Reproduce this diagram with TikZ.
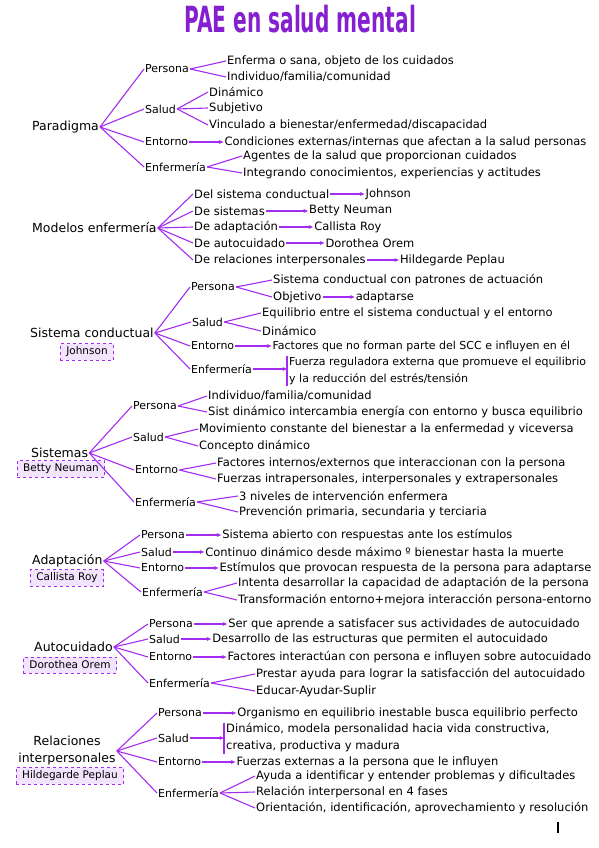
\documentclass[tikz,border=0pt]{standalone}
\usepackage{fontspec}
\setmainfont{DejaVu Sans}
\usepackage{graphicx}
\usetikzlibrary{arrows.meta,positioning}
\usepackage{xcolor}
\definecolor{lila}{HTML}{A32CF0}
\definecolor{lavanda}{HTML}{F3E4FD}
\definecolor{morado}{HTML}{8420D0}
\tikzset{
  titulo/.style={font=\bfseries\fontsize{36}{40}\selectfont,text=morado,inner sep=0pt},
  root/.style={font=\fontsize{12.5}{17}\selectfont,inner sep=1pt,align=center},
  part/.style={font=\fontsize{11}{13}\selectfont,inner sep=1pt,anchor=west},
  leaf/.style={font=\fontsize{11.5}{13}\selectfont,inner sep=1pt,anchor=west},
  bracket/.style={font=\fontsize{11.5}{17}\selectfont,inner xsep=2pt,inner ysep=1pt,anchor=west,align=left},
  author/.style={draw=lila,dashed,line width=1pt,fill=lavanda,font=\fontsize{10.5}{12}\selectfont,inner xsep=6pt,minimum height=16pt},
  link/.style={draw=lila,line width=1.1pt},
  arr/.style={-{Stealth[length=4.5pt,width=4pt]},draw=lila,line width=1.1pt}
}

\begin{document}
\begin{tikzpicture}[x=1pt,y=-1pt,node distance=32pt]
  \useasboundingbox (0,0) rectangle (599,848);
  \node[titulo] (ttl) at (300,19) {\scalebox{0.56}[1]{PAE en salud mental}};

  \node[root,anchor=west] (par) at (31,127) {Paradigma};
  \node[part] (p1) at (144,69) {Persona};
  \node[part] (s1) at (144,109) {Salud};
  \node[part] (e1) at (144,142) {Entorno};
  \node[part] (f1) at (144,167) {Enfermería};
  \node[leaf] (p1a) at (226,61) {Enferma o sana, objeto de los cuidados};
  \node[leaf] (p1b) at (226,77) {Individuo/familia/comunidad};
  \node[leaf] (s1a) at (208,92) {Dinámico};
  \node[leaf] (s1b) at (208,108) {Subjetivo};
  \node[leaf] (s1c) at (208,125) {Vinculado a bienestar/enfermedad/discapacidad};
  \node[leaf,right=34pt of e1] (e1a) {Condiciones externas/internas que afectan a la salud personas};
  \node[leaf] (f1a) at (242,156) {Agentes de la salud que proporcionan cuidados};
  \node[leaf] (f1b) at (242,173) {Integrando conocimientos, experiencias y actitudes};
  \draw[link] (par.east) -- (p1.west);
  \draw[link] (par.east) -- (s1.west);
  \draw[link] (par.east) -- (e1.west);
  \draw[link] (par.east) -- (f1.west);
  \draw[link] (p1.east) -- (p1a.west);
  \draw[link] (p1.east) -- (p1b.west);
  \draw[link] (s1.east) -- (s1a.west);
  \draw[link] (s1.east) -- (s1b.west);
  \draw[link] (s1.east) -- (s1c.west);
  \draw[arr] (e1) -- (e1a);
  \draw[link] (f1.east) -- (f1a.west);
  \draw[link] (f1.east) -- (f1b.west);

  \node[root,anchor=west] (mod) at (31,228) {Modelos enfermería};
  \node[leaf] (m1) at (193,194) {Del sistema conductual};
  \node[leaf] (m2) at (193,211) {De sistemas};
  \node[leaf] (m3) at (193,227) {De adaptación};
  \node[leaf] (m4) at (193,243) {De autocuidado};
  \node[leaf] (m5) at (193,260) {De relaciones interpersonales};
  \node[leaf,right=34pt of m1] (m1a) {Johnson};
  \node[leaf,right=42pt of m2] (m2a) {Betty Neuman};
  \node[leaf,right=34pt of m3] (m3a) {Callista Roy};
  \node[leaf,right=38pt of m4] (m4a) {Dorothea Orem};
  \node[leaf,right=32pt of m5] (m5a) {Hildegarde Peplau};
  \draw[link] (mod.east) -- (m1.west);
  \draw[link] (mod.east) -- (m2.west);
  \draw[link] (mod.east) -- (m3.west);
  \draw[link] (mod.east) -- (m4.west);
  \draw[link] (mod.east) -- (m5.west);
  \draw[arr] (m1) -- (m1a);
  \draw[arr] (m2) -- (m2a);
  \draw[arr] (m3) -- (m3a);
  \draw[arr] (m4) -- (m4a);
  \draw[arr] (m5) -- (m5a);

  \node[root,anchor=west] (sc) at (29,333) {Sistema conductual};
  \node[author] (jo) at (87,352) {Johnson};
  \node[part] (p3) at (190,287) {Persona};
  \node[part] (s3) at (191,322) {Salud};
  \node[part] (e3) at (190,346) {Entorno};
  \node[part] (f3) at (190,369) {Enfermería};
  \node[leaf] (p3a) at (272,280) {Sistema conductual con patrones de actuación};
  \node[leaf] (p3b) at (272,297) {Objetivo};
  \node[leaf,right=32pt of p3b] (p3c) {adaptarse};
  \node[leaf] (s3a) at (261,313) {Equilibrio entre el sistema conductual y el entorno};
  \node[leaf] (s3b) at (261,331) {Dinámico};
  \node[leaf,right=36pt of e3,font=\fontsize{11}{13}\selectfont] (e3a) {Factores que no forman parte del SCC e influyen en él};
  \node[bracket,font=\fontsize{11}{17}\selectfont] (f3a) at (287,371) {Fuerza reguladora externa que promueve el equilibrio\\y la reducción del estrés/tensión};
  \draw[link] (sc.east) -- (p3.west);
  \draw[link] (sc.east) -- (s3.west);
  \draw[link] (sc.east) -- (e3.west);
  \draw[link] (sc.east) -- (f3.west);
  \draw[link] (p3.east) -- (p3a.west);
  \draw[link] (p3.east) -- (p3b.west);
  \draw[arr] (p3b) -- (p3c);
  \draw[link] (s3.east) -- (s3a.west);
  \draw[link] (s3.east) -- (s3b.west);
  \draw[arr] (e3) -- (e3a);
  \draw[link] (f3a.north west) -- (f3a.south west);
  \draw[arr] (f3.east) -- (f3.east -| f3a.west);

  \node[root,anchor=west] (sis) at (30,453) {Sistemas};
  \node[author] (bn) at (61,469) {Betty Neuman};
  \node[part] (p4) at (132,406) {Persona};
  \node[part] (s4) at (132,437) {Salud};
  \node[part] (e4) at (134,470) {Entorno};
  \node[part] (f4) at (134,502) {Enfermería};
  \node[leaf] (p4a) at (207,396) {Individuo/familia/comunidad};
  \node[leaf] (p4b) at (207,412) {Sist dinámico intercambia energía con entorno y busca equilibrio};
  \node[leaf] (s4a) at (198,429) {Movimiento constante del bienestar a la enfermedad y viceversa};
  \node[leaf] (s4b) at (198,446) {Concepto dinámico};
  \node[leaf] (e4a) at (216,463) {Factores internos/externos que interaccionan con la persona};
  \node[leaf] (e4b) at (216,479) {Fuerzas intrapersonales, interpersonales y extrapersonales};
  \node[leaf] (f4a) at (238,496) {3 niveles de intervención enfermera};
  \node[leaf] (f4b) at (238,512) {Prevención primaria, secundaria y terciaria};
  \draw[link] (sis.east) -- (p4.west);
  \draw[link] (sis.east) -- (s4.west);
  \draw[link] (sis.east) -- (e4.west);
  \draw[link] (sis.east) -- (f4.west);
  \draw[link] (p4.east) -- (p4a.west);
  \draw[link] (p4.east) -- (p4b.west);
  \draw[link] (s4.east) -- (s4a.west);
  \draw[link] (s4.east) -- (s4b.west);
  \draw[link] (e4.east) -- (e4a.west);
  \draw[link] (e4.east) -- (e4b.west);
  \draw[link] (f4.east) -- (f4a.west);
  \draw[link] (f4.east) -- (f4b.west);

  \node[root,anchor=west] (ad) at (31,561) {Adaptación};
  \node[author] (cr) at (67,578) {Callista Roy};
  \node[part] (p5) at (140,535) {Persona};
  \node[part] (s5) at (140,552) {Salud};
  \node[part] (e5) at (140,568) {Entorno};
  \node[part] (f5) at (141,592) {Enfermería};
  \node[leaf,right=35pt of p5] (p5a) {Sistema abierto con respuestas ante los estímulos};
  \node[leaf,right=31pt of s5] (s5a) {Continuo dinámico desde máximo º bienestar hasta la muerte};
  \node[leaf,right=33pt of e5] (e5a) {Estímulos que provocan respuesta de la persona para adaptarse};
  \node[leaf] (f5a) at (237,583) {Intenta desarrollar la capacidad de adaptación de la persona};
  \node[leaf] (f5b) at (237,600) {Transformación entorno+mejora interacción persona-entorno};
  \draw[link] (ad.east) -- (p5.west);
  \draw[link] (ad.east) -- (s5.west);
  \draw[link] (ad.east) -- (e5.west);
  \draw[link] (ad.east) -- (f5.west);
  \draw[arr] (p5) -- (p5a);
  \draw[arr] (s5) -- (s5a);
  \draw[arr] (e5) -- (e5a);
  \draw[link] (f5.east) -- (f5a.west);
  \draw[link] (f5.east) -- (f5b.west);

  \node[root,anchor=west] (au) at (33,647) {Autocuidado};
  \node[author] (do) at (70,665) {Dorothea Orem};
  \node[part] (p6) at (148,624) {Persona};
  \node[part] (s6) at (148,639) {Salud};
  \node[part] (e6) at (148,657) {Entorno};
  \node[part] (f6) at (148,683) {Enfermería};
  \node[leaf,right=33pt of p6] (p6a) {Ser que aprende a satisfacer sus actividades de autocuidado};
  \node[leaf,right=30pt of s6] (s6a) {Desarrollo de las estructuras que permiten el autocuidado};
  \node[leaf,right=33pt of e6] (e6a) {Factores interactúan con persona e influyen sobre autocuidado};
  \node[leaf] (f6a) at (255,674) {Prestar ayuda para lograr la satisfacción del autocuidado};
  \node[leaf] (f6b) at (255,691) {Educar-Ayudar-Suplir};
  \draw[link] (au.east) -- (p6.west);
  \draw[link] (au.east) -- (s6.west);
  \draw[link] (au.east) -- (e6.west);
  \draw[link] (au.east) -- (f6.west);
  \draw[arr] (p6) -- (p6a);
  \draw[arr] (s6) -- (s6a);
  \draw[arr] (e6) -- (e6a);
  \draw[link] (f6.east) -- (f6a.west);
  \draw[link] (f6.east) -- (f6b.west);

  \node[root] (rel) at (67,751) {Relaciones\\interpersonales};
  \node[author] (hp) at (70,776) {Hildegarde Peplau};
  \node[part] (p7) at (157,713) {Persona};
  \node[part] (s7) at (157,738) {Salud};
  \node[part] (e7) at (157,762) {Entorno};
  \node[part] (f7) at (157,793) {Enfermería};
  \node[leaf,right=33pt of p7] (p7a) {Organismo en equilibrio inestable busca equilibrio perfecto};
  \node[bracket] (s7a) at (224,738) {Dinámico, modela personalidad hacia vida constructiva,\\creativa, productiva y madura};
  \node[leaf,right=33pt of e7] (e7a) {Fuerzas externas a la persona que le influyen};
  \node[leaf] (f7a) at (255,776) {Ayuda a identificar y entender problemas y dificultades};
  \node[leaf] (f7b) at (255,792) {Relación interpersonal en 4 fases};
  \node[leaf] (f7c) at (255,808) {Orientación, identificación, aprovechamiento y resolución};
  \draw[link] (rel.east) -- (p7.west);
  \draw[link] (rel.east) -- (s7.west);
  \draw[link] (rel.east) -- (e7.west);
  \draw[link] (rel.east) -- (f7.west);
  \draw[arr] (p7) -- (p7a);
  \draw[link] (s7a.north west) -- (s7a.south west);
  \draw[arr] (s7.east) -- (s7.east -| s7a.west);
  \draw[arr] (e7) -- (e7a);
  \draw[link] (f7.east) -- (f7a.west);
  \draw[link] (f7.east) -- (f7b.west);
  \draw[link] (f7.east) -- (f7c.west);

  \draw[line width=1.2pt] (558,822) -- (558,833);
\end{tikzpicture}
\end{document}
